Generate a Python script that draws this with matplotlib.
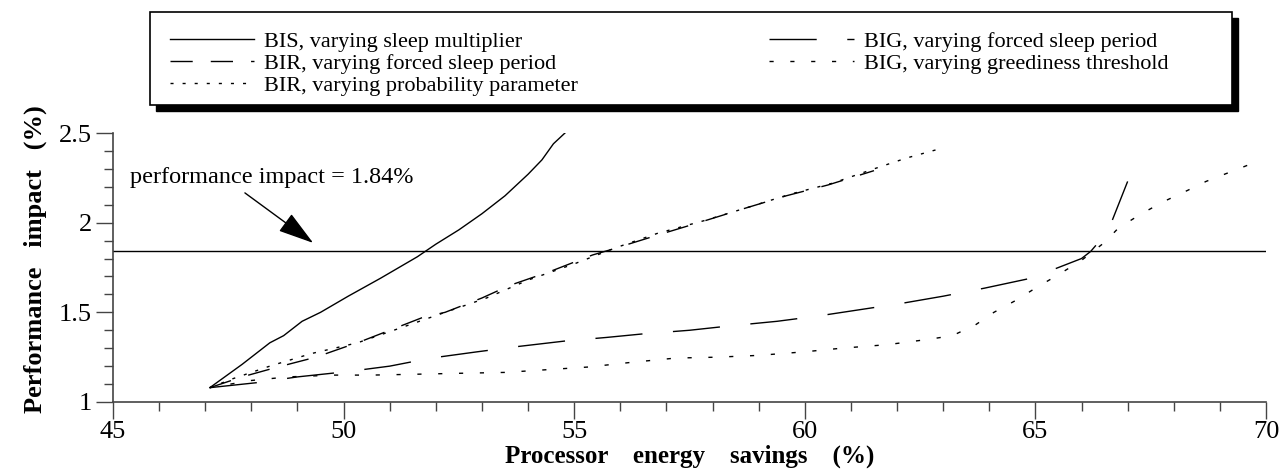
import matplotlib
matplotlib.use("Agg")
from matplotlib import pyplot
from matplotlib.patches import Rectangle
from matplotlib.ticker import MultipleLocator, FormatStrFormatter

pyplot.rcParams['font.family'] = ['Liberation Serif', 'DejaVu Serif']
pyplot.rcParams['lines.scale_dashes'] = False

# BIS, varying sleep multiplier
bis_x = [47.1, 47.8, 48.4, 48.7, 49.1, 49.5, 50.1, 50.8, 51.6, 52.0, 52.5, 53.0, 53.5, 54.0, 54.3, 54.55, 54.8]
bis_y = [1.08, 1.21, 1.33, 1.37, 1.45, 1.50, 1.59, 1.69, 1.81, 1.88, 1.96, 2.05, 2.15, 2.27, 2.35, 2.44, 2.50]

# BIR, varying forced sleep period
bir_fs_x = [47.1, 47.8, 48.5, 49.4, 50.4, 50.8, 51.7, 52.2, 53.0, 53.6, 54.5, 55.4, 55.8, 56.8, 57.7, 58.7, 59.6, 60.5, 61.0, 61.5]
bir_fs_y = [1.08, 1.14, 1.19, 1.25, 1.34, 1.38, 1.47, 1.50, 1.58, 1.65, 1.73, 1.82, 1.85, 1.93, 2.00, 2.08, 2.15, 2.21, 2.25, 2.29]

# BIR, varying probability parameter
bir_pp_x = [47.1, 47.6, 48.4, 49.3, 50.3, 51.2, 52.2, 53.1, 54.0, 55.0, 55.9, 56.8, 57.8, 58.7, 59.7, 60.6, 61.5, 62.2, 62.9]
bir_pp_y = [1.08, 1.13, 1.20, 1.27, 1.33, 1.41, 1.50, 1.58, 1.68, 1.77, 1.86, 1.94, 2.01, 2.08, 2.16, 2.22, 2.30, 2.36, 2.41]

# BIG, varying forced sleep period
big_fs_x = [47.1, 48.2, 49.0, 50.1, 51.0, 51.9, 52.9, 53.8, 54.8, 55.7, 56.5, 57.5, 58.4, 59.4, 60.3,
            61.2, 62.1, 63.0, 63.9, 64.9, 65.5, 66.0, 66.2, 66.4, 66.6, 67.0]
big_fs_y = [1.08, 1.11, 1.14, 1.17, 1.20, 1.245, 1.28, 1.31, 1.34, 1.36, 1.38, 1.40, 1.425, 1.45, 1.48,
            1.515, 1.55, 1.59, 1.635, 1.69, 1.75, 1.80, 1.84, 1.90, 1.97, 2.23]

# BIG, varying greediness threshold
big_gt_x = [47.1, 48.0, 48.8, 49.8, 50.6, 51.6, 52.5, 53.5, 54.4, 55.3, 56.2, 57.2, 58.1, 59.0, 60.0, 60.8,
            61.8, 62.7, 63.2, 63.7, 64.1, 64.6, 65.0, 65.5, 66.0, 66.5, 66.8, 67.3, 67.8, 68.3, 68.7, 69.2, 69.8]
big_gt_y = [1.08, 1.12, 1.14, 1.15, 1.15, 1.155, 1.16, 1.165, 1.18, 1.195, 1.22, 1.245, 1.25, 1.26, 1.28, 1.30,
            1.32, 1.35, 1.37, 1.43, 1.50, 1.57, 1.635, 1.71, 1.79, 1.89, 1.97, 2.05, 2.12, 2.18, 2.23, 2.28, 2.34]

labels = ["BIS, varying sleep multiplier",
          "BIR, varying forced sleep period",
          "BIR, varying probability parameter",
          "BIG, varying forced sleep period",
          "BIG, varying greediness threshold"]

threshold = 1.84

W, H = 1282, 472
fig = pyplot.figure(figsize=(W / 100, H / 100), dpi=100)
ax = fig.add_axes([113 / W, 1 - 402 / H, (1266 - 113) / W, (402 - 133) / H])

lw = 1.0
l1, = ax.plot(bis_x, bis_y, color='black', lw=lw)
l2, = ax.plot(bir_fs_x, bir_fs_y, color='black', lw=lw, dashes=(16, 13))
l3, = ax.plot(bir_pp_x, bir_pp_y, color='black', lw=lw, dashes=(2.2, 6.5))
l4, = ax.plot(big_fs_x, big_fs_y, color='black', lw=lw, dashes=(34, 22))
l5, = ax.plot(big_gt_x, big_gt_y, color='black', lw=lw, dashes=(3, 12))

ax.axhline(threshold, color='black', lw=1.0)

ax.set_xlim(45, 70)
ax.set_ylim(1, 2.5)
ax.xaxis.set_major_locator(MultipleLocator(5))
ax.xaxis.set_minor_locator(MultipleLocator(1))
ax.yaxis.set_major_locator(MultipleLocator(0.5))
ax.yaxis.set_minor_locator(MultipleLocator(0.1))
ax.yaxis.set_major_formatter(FormatStrFormatter('%g'))

for side in ['top', 'right']:
    ax.spines[side].set_visible(False)
for side in ['left', 'bottom']:
    ax.spines[side].set_color('#444444')
    ax.spines[side].set_linewidth(1.2)

ax.tick_params(which='major', direction='out', length=12, width=1.0, color='#444444', labelsize=19)
ax.tick_params(which='minor', direction='out', length=6.5, width=1.0, color='#444444')
ax.tick_params(axis='x', pad=2)
ax.tick_params(axis='y', pad=3)

ax.set_xlabel("Processor    energy    savings    (%)", fontsize=18, fontweight='bold')
ax.set_ylabel("Performance   impact   (%)", fontsize=19, fontweight='bold')
ax.xaxis.set_label_coords(0.5, -0.158)
ax.yaxis.set_label_coords(-0.057, 0.53)

ax.text(45.37, 2.25, "performance impact = 1.84%", fontsize=17.5, va='center', ha='left')
ax.annotate('', xy=(49.34, 1.887), xytext=(47.86, 2.166),
            arrowprops=dict(arrowstyle='-|>,head_length=1.5,head_width=0.45', mutation_scale=15,
                            color='black', lw=1.0, shrinkA=0, shrinkB=0))

# legend box with a solid drop shadow
bx0, by0, bx1, by1 = 150, 12, 1232, 105
sh = 6
fig.patches.append(Rectangle(((bx0 + sh) / W, 1 - (by1 + sh) / H), (bx1 - bx0) / W, (by1 - by0) / H,
                             transform=fig.transFigure, facecolor='black', edgecolor='black', zorder=0))
fig.patches.append(Rectangle((bx0 / W, 1 - by1 / H), (bx1 - bx0) / W, (by1 - by0) / H,
                             transform=fig.transFigure, facecolor='white', edgecolor='black',
                             lw=1.2, zorder=1))

leg = fig.legend([l1, l2, l3, l4, l5], labels,
                 loc='upper left', ncol=2, bbox_to_anchor=(170 / W, 1 - 31 / H),
                 fontsize=16, handlelength=3.8, handletextpad=0.45, labelspacing=0.07,
                 columnspacing=8.6, borderpad=0, borderaxespad=0, frameon=False)

pyplot.savefig("out.png", dpi=100)
